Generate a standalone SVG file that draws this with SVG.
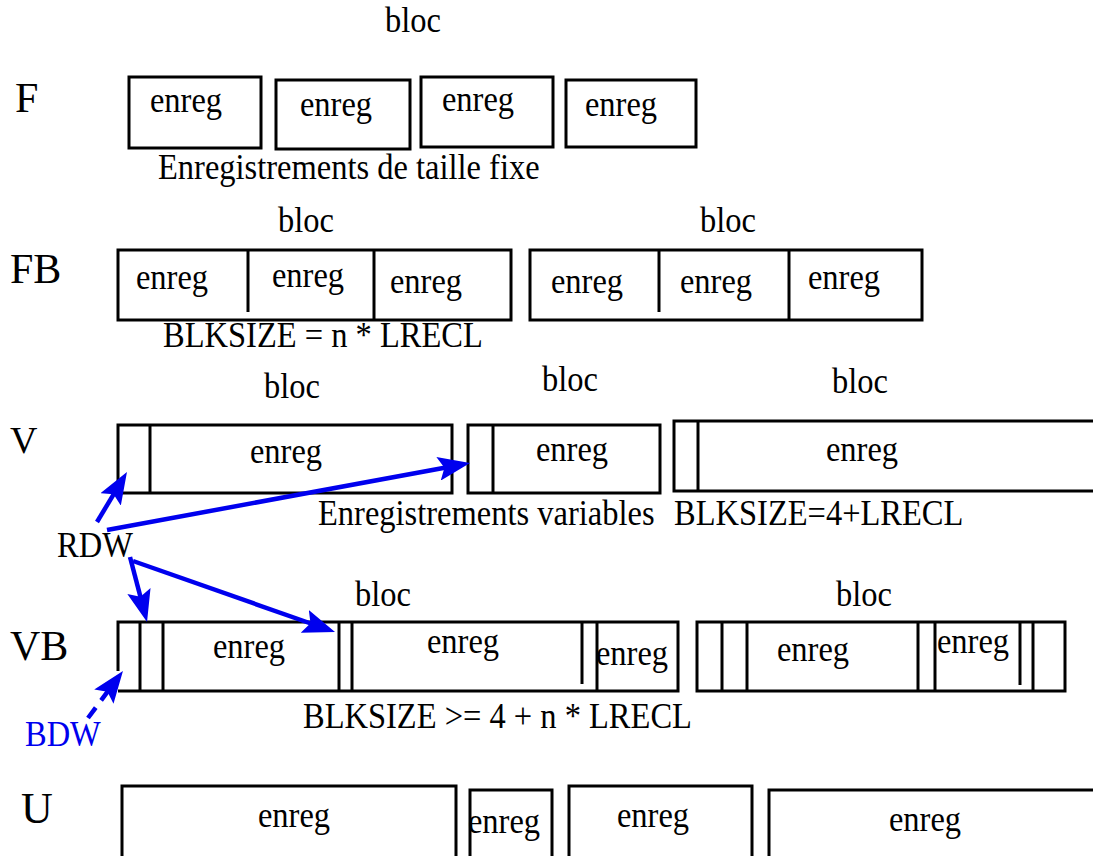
<svg xmlns="http://www.w3.org/2000/svg" width="1093" height="856" viewBox="0 0 1093 856">
  <style>
    text { font-family: "Liberation Serif", "Times New Roman", serif; fill: #000; }
    .t, .c { font-size: 32.5px; transform-box: fill-box; transform-origin: center; transform: scaleY(1.1); }
    .c { text-anchor: middle; }
    .big { font-size: 42px; }
    .box { fill: none; stroke: #000; stroke-width: 3; }
    .sep { stroke: #000; stroke-width: 3; }
    .arr { stroke: #0000ee; stroke-width: 4.5; fill: none; }
    .dash { stroke-dasharray: 13 9; }
    .blue { fill: #0000ee; }
  </style>
  <defs>
    <marker id="head" viewBox="0 0 32 24" refX="20" refY="12" markerWidth="32" markerHeight="24" orient="auto" markerUnits="userSpaceOnUse">
      <path d="M0,0 L32,12 L0,24 L6,12 Z" fill="#0000ee"/>
    </marker>
  </defs>

  <rect width="1093" height="856" fill="#fff"/>

  <!-- F : fixed-length records -->
  <g id="row-F">
    <text class="c" x="413" y="31">bloc</text>
    <text class="big" x="15" y="112">F</text>
    <rect class="box" x="129" y="77" width="132" height="71"/>
    <text class="c" x="186" y="111">enreg</text>
    <rect class="box" x="276" y="80" width="134" height="69"/>
    <text class="c" x="336" y="115">enreg</text>
    <rect class="box" x="421" y="77" width="132" height="70"/>
    <text class="c" x="478" y="110">enreg</text>
    <rect class="box" x="566" y="80" width="130" height="67"/>
    <text class="c" x="621" y="115">enreg</text>
    <text class="t" x="158" y="178">Enregistrements de taille fixe</text>
  </g>

  <!-- FB : fixed blocked -->
  <g id="row-FB">
    <text class="big" x="10" y="283">FB</text>
    <text class="c" x="306" y="231">bloc</text>
    <text class="c" x="728" y="231">bloc</text>
    <rect class="box" x="118" y="250" width="393" height="70"/>
    <line class="sep" x1="248" y1="250" x2="248" y2="312"/>
    <line class="sep" x1="374" y1="250" x2="374" y2="320"/>
    <text class="c" x="172" y="288">enreg</text>
    <text class="c" x="308" y="286">enreg</text>
    <text class="c" x="426" y="292">enreg</text>
    <rect class="box" x="530" y="250" width="392" height="70"/>
    <line class="sep" x1="659" y1="250" x2="659" y2="312"/>
    <line class="sep" x1="789" y1="250" x2="789" y2="320"/>
    <text class="c" x="587" y="292">enreg</text>
    <text class="c" x="716" y="292">enreg</text>
    <text class="c" x="844" y="288">enreg</text>
    <text class="t" x="163" y="346">BLKSIZE = n * LRECL</text>
  </g>

  <!-- V : variable -->
  <g id="row-V">
    <text class="big" x="10" y="453" style="font-size:38px">V</text>
    <text class="c" x="292" y="397">bloc</text>
    <text class="c" x="570" y="390">bloc</text>
    <text class="c" x="860" y="392">bloc</text>
    <rect class="box" x="118" y="425" width="334" height="68"/>
    <line class="sep" x1="150" y1="425" x2="150" y2="493"/>
    <text class="c" x="286" y="462">enreg</text>
    <rect class="box" x="468" y="425" width="192" height="68"/>
    <line class="sep" x1="493" y1="425" x2="493" y2="493"/>
    <text class="c" x="572" y="460">enreg</text>
    <path class="box" d="M1095,421 H674 V491 H1095"/>
    <line class="sep" x1="698" y1="421" x2="698" y2="491"/>
    <text class="c" x="862" y="460">enreg</text>
    <text class="t" x="318" y="524">Enregistrements variables</text>
    <text class="t" x="674" y="524">BLKSIZE=4+LRECL</text>
  </g>

  <!-- RDW label -->
  <g id="rdw">
    <text class="t" x="57" y="556">RDW</text>
  </g>

  <!-- VB : variable blocked -->
  <g id="row-VB">
    <text class="big" x="10" y="660">VB</text>
    <text class="c" x="383" y="605">bloc</text>
    <text class="c" x="864" y="605">bloc</text>
    <path class="box" d="M118,671 V622 H678 V691 H118"/>
    <line class="sep" x1="140" y1="622" x2="140" y2="691"/>
    <line class="sep" x1="163" y1="622" x2="163" y2="691"/>
    <line class="sep" x1="339" y1="622" x2="339" y2="691"/>
    <line class="sep" x1="352" y1="622" x2="352" y2="691"/>
    <line class="sep" x1="582" y1="622" x2="582" y2="684"/>
    <line class="sep" x1="597" y1="622" x2="597" y2="691"/>
    <text class="c" x="249" y="657">enreg</text>
    <text class="c" x="463" y="652">enreg</text>
    <text class="c" x="632" y="664">enreg</text>
    <rect class="box" x="697" y="622" width="368" height="69"/>
    <line class="sep" x1="722" y1="622" x2="722" y2="691"/>
    <line class="sep" x1="747" y1="622" x2="747" y2="691"/>
    <line class="sep" x1="918" y1="622" x2="918" y2="691"/>
    <line class="sep" x1="935" y1="622" x2="935" y2="691"/>
    <line class="sep" x1="1020" y1="622" x2="1020" y2="685"/>
    <line class="sep" x1="1033" y1="622" x2="1033" y2="691"/>
    <text class="c" x="813" y="660">enreg</text>
    <text class="c" x="973" y="652">enreg</text>
    <text class="t" x="303" y="727">BLKSIZE &gt;= 4 + n * LRECL</text>
  </g>

  <!-- BDW label -->
  <g id="bdw">
    <text class="t blue" x="25" y="745">BDW</text>
  </g>

  <!-- U : undefined -->
  <g id="row-U">
    <text class="big" x="21" y="823" style="font-size:44px">U</text>
    <path class="box" d="M122,858 V786 H456 V858"/>
    <text class="c" x="294" y="826">enreg</text>
    <path class="box" d="M470,858 V790 H552 V858"/>
    <text class="c" x="504" y="832">enreg</text>
    <path class="box" d="M569,858 V786 H752 V858"/>
    <text class="c" x="653" y="826">enreg</text>
    <path class="box" d="M769,858 V790 H1095"/>
    <text class="c" x="925" y="830">enreg</text>
  </g>

  <!-- connectors: RDW / BDW pointers -->
  <g id="connectors">
    <line class="arr" x1="97" y1="522" x2="120.8" y2="482.3" marker-end="url(#head)"/>
    <line class="arr" x1="107" y1="530" x2="458.2" y2="465.2" marker-end="url(#head)"/>
    <line class="arr" x1="130" y1="557" x2="144" y2="610.4" marker-end="url(#head)"/>
    <line class="arr" x1="133" y1="561" x2="323.7" y2="628" marker-end="url(#head)"/>
    <line class="arr dash" x1="88" y1="718" x2="115.8" y2="680.6" marker-end="url(#head)"/>
  </g>
</svg>
